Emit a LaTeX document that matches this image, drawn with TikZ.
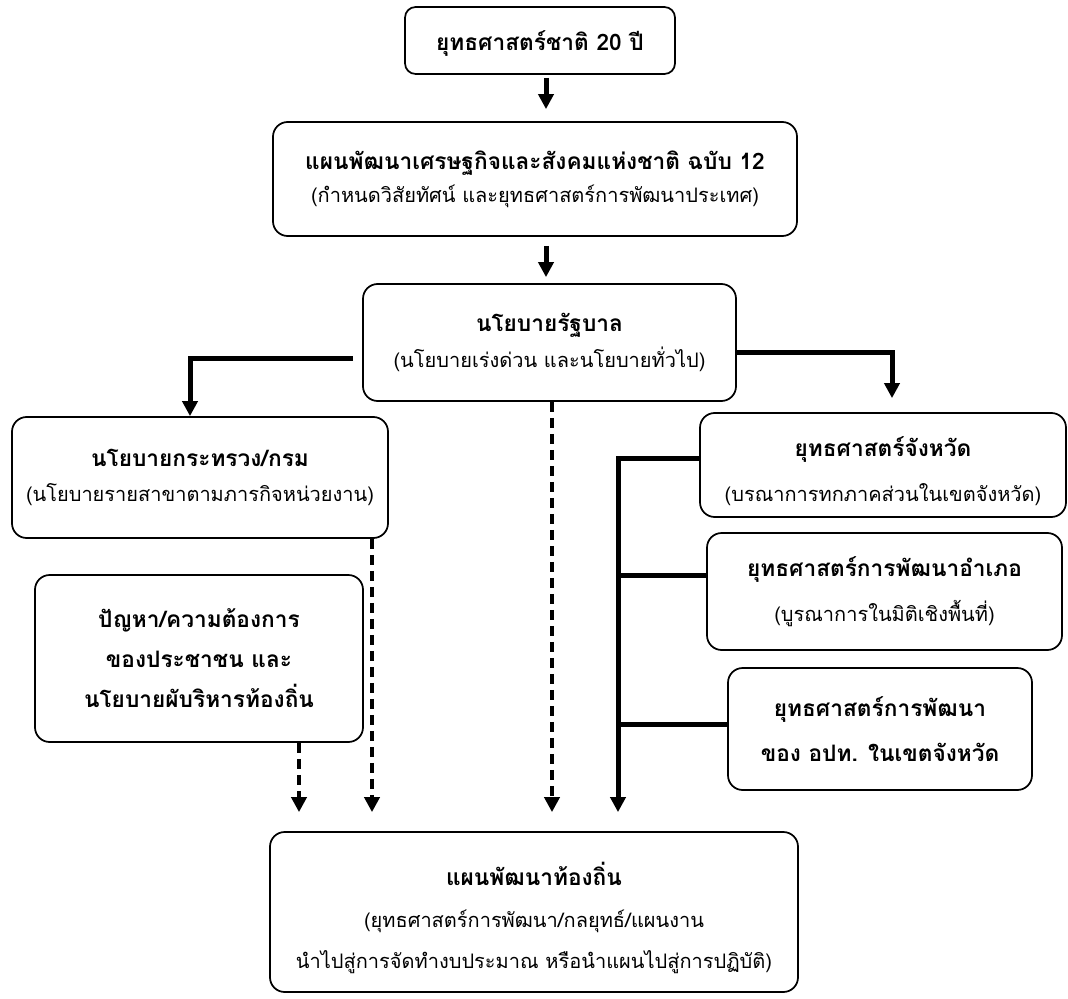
\documentclass[tikz,border=0pt]{standalone}
\usepackage{fontspec}
\newfontfamily\thai[Script=Thai]{Loma}
\usetikzlibrary{arrows.meta}
\newcommand\TT[1]{{\fontsize{17}{20}\selectfont\bfseries #1}}
\newcommand\ST[1]{{\fontsize{15}{20}\selectfont #1}}
\tikzset{
  box/.style={draw, line width=1.3pt, rounded corners=11pt, align=center, inner sep=0pt,
    font=\thai\fontsize{15}{#1}\selectfont},
  box/.default=26pt,
  lbl/.style={align=center, inner sep=0pt, font=\thai\fontsize{15}{#1}\selectfont},
  tip/.style={-{Triangle[width=11.25pt,length=11.25pt]}},
  arr/.style={line width=3.75pt, tip},
  thk/.style={line width=3.75pt},
  dsh/.style={line width=3pt, dash pattern=on 7.5pt off 4.5pt, tip}
}
\begin{document}
\begin{tikzpicture}[x=0.75pt,y=-0.75pt]
\useasboundingbox (0,0) rectangle (1068,999);
% boxes
\node[box=20pt, minimum width=202.5pt, minimum height=50.25pt, rounded corners=8pt,
  label={[lbl=20pt, yshift=-2.5pt]center:{\TT{ยุทธศาสตร์ชาติ 20 ปี}}}] (b1) at (540,40.5) {};
\node[box=25pt, minimum width=393pt, minimum height=85.5pt] (b2) at (535,179)
  {\TT{แผนพัฒนาเศรษฐกิจและสังคมแห่งชาติ ฉบับ 12}\\\ST{(กำหนดวิสัยทัศน์ และยุทธศาสตร์การพัฒนาประเทศ)}};
\node[box=27pt, minimum width=279.75pt, minimum height=87.75pt] (b3) at (549.5,342.5)
  {\TT{นโยบายรัฐบาล}\\\ST{(นโยบายเร่งด่วน และนโยบายทั่วไป)}};
\node[box=26pt, minimum width=282pt, minimum height=90.75pt] (b7) at (200,477.5)
  {\TT{นโยบายกระทรวง/กรม}\\\ST{(นโยบายรายสาขาตามภารกิจหน่วยงาน)}};
\node[box=34pt, minimum width=274.5pt, minimum height=78pt,
  label={[lbl=34pt, yshift=-4.5pt]center:{\TT{ยุทธศาสตร์จังหวัด}\\\ST{(บรณาการทกภาคส่วนในเขตจังหวัด)}}}] (b8) at (883,465) {};
\node[box=34pt, minimum width=266.25pt, minimum height=87.75pt] (b9) at (884.5,591.5)
  {\TT{ยุทธศาสตร์การพัฒนาอำเภอ}\\\ST{(บูรณาการในมิติเชิงพื้นที่)}};
\node[box=34pt, minimum width=228pt, minimum height=91.5pt] (b10) at (880,729)
  {\TT{ยุทธศาสตร์การพัฒนา}\\\TT{ของ อปท. ในเขตจังหวัด}};
\node[box=30pt, minimum width=246pt, minimum height=125.25pt] (b11) at (199,658.5)
  {\TT{ปัญหา/ความต้องการ}\\\TT{ของประชาชน และ}\\\TT{นโยบายผับริหารท้องถิ่น}};
\node[box=31pt, minimum width=396pt, minimum height=120pt,
  label={[lbl=31pt, yshift=-4.5pt]center:{\TT{แผนพัฒนาท้องถิ่น}\\\ST{(ยุทธศาสตร์การพัฒนา/กลยุทธ์/แผนงาน}\\\ST{นำไปสู่การจัดทำงบประมาณ หรือนำแผนไปสู่การปฏิบัติ)}}}] (b12) at (534,912) {};
% connectors
\coordinate (xa) at (546,0);
\draw[arr, shorten <=2.25pt, shorten >=9pt] (b1.south -| xa) -- (b2.north -| xa);
\draw[arr, shorten <=6.75pt, shorten >=4.5pt] (b2.south -| xa) -- (b3.north -| xa);
\coordinate (L) at (190,358);
\draw[arr, shorten <=6.75pt] (b3.west |- L) -- (L) -- (L |- b7.north);
\coordinate (R) at (892,352);
\draw[arr, shorten >=10.5pt] (b3.east |- R) -- (R) -- (R |- b8.north);
\coordinate (d1) at (372,0);
\draw[dsh, shorten >=14.25pt] (b7.south -| d1) -- (b12.north -| d1);
\coordinate (d2) at (299,0);
\draw[dsh, shorten >=14.25pt] (b11.south -| d2) -- (b12.north -| d2);
\coordinate (d3) at (552,0);
\draw[dsh, shorten >=14.25pt] (b3.south -| d3) -- (b12.north -| d3);
\coordinate (S) at (618,458);
\draw[arr, shorten >=14.25pt] (b8.west |- S) -- (S) -- (S |- b12.north);
\coordinate (S2) at (618,575);
\draw[thk] (b9.west |- S2) -- (S2);
\coordinate (S3) at (618,724);
\draw[thk] (b10.west |- S3) -- (S3);
\end{tikzpicture}
\end{document}
